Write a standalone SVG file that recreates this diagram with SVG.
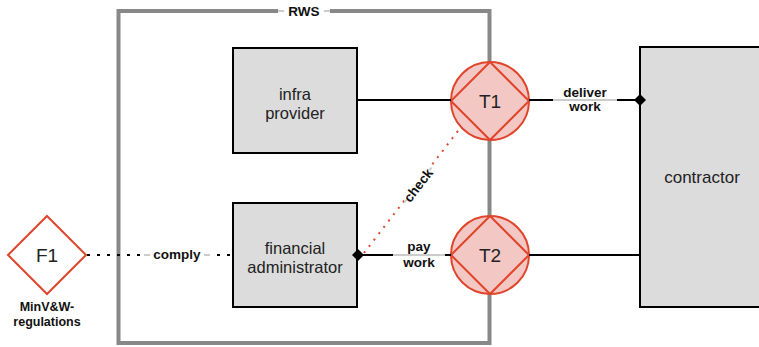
<svg xmlns="http://www.w3.org/2000/svg" width="759" height="347" viewBox="0 0 759 347">
  <defs>
    <style>
      .box { fill: #dcdcdc; stroke: #000; stroke-width: 2; }
      .lbl { font-family: "Liberation Sans", Arial, sans-serif; font-size: 16.5px; fill: #222; text-anchor: middle; }
      .tx { font-family: "Liberation Sans", Arial, sans-serif; font-size: 19px; fill: #222; text-anchor: middle; }
      .small { font-family: "Liberation Sans", Arial, sans-serif; font-size: 13.5px; font-weight: bold; fill: #111; text-anchor: middle; }
      .line { stroke: #000; stroke-width: 2; fill: none; }
      .halo { stroke: #cccccc; stroke-width: 2; fill: none; }
      .trans { fill: #f3c8c4; stroke: #e0452b; stroke-width: 2; }
      .role { fill: #fff; stroke: #e0452b; stroke-width: 2; }
    </style>
    <marker id="dia" viewBox="-6 -6 12 12" markerWidth="12" markerHeight="12" markerUnits="userSpaceOnUse" orient="auto">
      <path d="M-6 0 L0 -6 L6 0 L0 6 Z" fill="#000"/>
    </marker>
  </defs>

  <!-- RWS boundary -->
  <g id="rws">
    <rect x="118.5" y="11" width="371" height="332" fill="none" stroke="#888" stroke-width="4"/>
    <rect x="278" y="4" width="52" height="14" fill="#fff"/>
    <line class="halo" x1="278" y1="11" x2="284" y2="11"/>
    <line class="halo" x1="324" y1="11" x2="330" y2="11"/>
    <text class="small" x="304" y="16">RWS</text>
  </g>

  <g id="infra-provider">
    <rect class="box" x="233" y="48" width="124" height="105"/>
    <text class="lbl" x="295" y="100">infra</text>
    <text class="lbl" x="295" y="119">provider</text>
  </g>

  <g id="financial-administrator">
    <rect class="box" x="233" y="203" width="124" height="104"/>
    <text class="lbl" x="295" y="254">financial</text>
    <text class="lbl" x="295" y="273">administrator</text>
  </g>

  <g id="contractor">
    <rect class="box" x="640" y="47" width="130" height="260"/>
    <text class="lbl" x="702" y="183" style="font-size:17px">contractor</text>
  </g>

  <g id="T1">
    <circle class="trans" cx="490" cy="101" r="39"/>
    <path class="role" style="fill:none" d="M490 62 L529 101 L490 140 L451 101 Z"/>
    <text class="tx" x="490" y="108">T1</text>
  </g>

  <g id="T2">
    <circle class="trans" cx="490" cy="255" r="39"/>
    <path class="role" style="fill:none" d="M490 216 L529 255 L490 294 L451 255 Z"/>
    <text class="tx" x="490" y="262">T2</text>
  </g>

  <g id="F1">
    <path class="role" d="M47 216 L86 255 L47 294 L8 255 Z"/>
    <text class="tx" x="47" y="262">F1</text>
    <text class="small" x="47" y="311" style="font-size:12.5px">MinV&amp;W-</text>
    <text class="small" x="47" y="326" style="font-size:12.5px">regulations</text>
  </g>

  <!-- connectors -->
  <g id="connectors">
    <!-- infra provider - T1 -->
    <line class="line" x1="358" y1="100" x2="451" y2="100"/>
    <!-- T1 - contractor -->
    <line class="line" x1="529" y1="100" x2="640" y2="100" marker-end="url(#dia)"/>
    <line class="halo" x1="553" y1="100" x2="617" y2="100"/>
    <text class="small" x="585" y="97">deliver</text>
    <text class="small" x="585" y="111">work</text>
    <!-- T2 - contractor -->
    <line class="line" x1="529" y1="255" x2="640" y2="255"/>
    <!-- financial administrator - T2 -->
    <line class="line" x1="358" y1="255" x2="451" y2="255" marker-start="url(#dia)"/>
    <line class="halo" x1="393" y1="255" x2="445" y2="255"/>
    <text class="small" x="419" y="251">pay</text>
    <text class="small" x="419" y="267">work</text>
    <!-- check -->
    <line x1="364" y1="253" x2="461" y2="127" stroke="#e0452b" stroke-width="2" stroke-dasharray="2 6"/>
    <g transform="translate(418 185) rotate(-52)">
      <rect x="-20" y="-8" width="40" height="15" fill="#fff"/>
      <line class="halo" x1="-22" y1="0" x2="-19" y2="0"/>
      <line class="halo" x1="19" y1="0" x2="22" y2="0"/>
      <text class="small" x="0" y="5">check</text>
    </g>
    <!-- comply -->
    <line x1="87" y1="255" x2="233" y2="255" stroke="#000" stroke-width="2" stroke-dasharray="3 7"/>
    <line class="halo" x1="144" y1="255" x2="210" y2="255"/>
    <rect x="150" y="247" width="54" height="16" fill="#fff"/>
    <text class="small" x="177" y="259">comply</text>
  </g>
</svg>
